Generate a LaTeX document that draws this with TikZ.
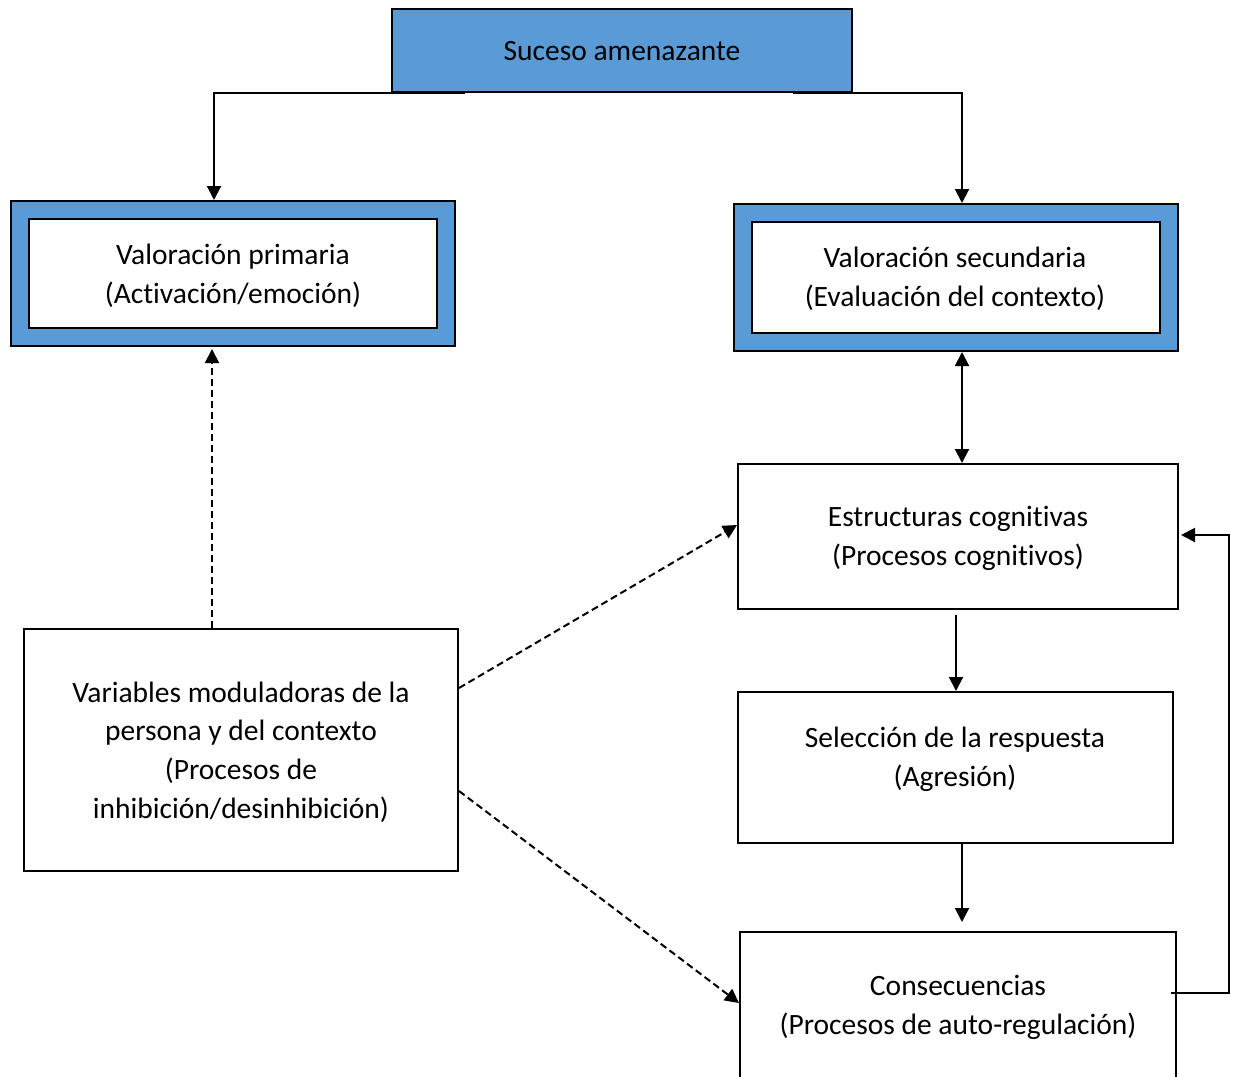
\documentclass[tikz,border=0pt]{standalone}
\usepackage{fontspec}
\setmainfont[Ligatures=NoCommon]{Carlito}
\usetikzlibrary{arrows.meta,calc}
\definecolor{wblue}{HTML}{5B9BD5}
\begin{document}
\begin{tikzpicture}[x=1pt,y=-1pt,
  every node/.style={font=\fontsize{29.5}{38.8}\selectfont},
  box/.style={draw=black, line width=2pt, inner sep=0pt, fill=white},
  bluebox/.style={box, fill=wblue},
  txt/.style={align=center, inner sep=0pt, text=black},
  arr/.style={line width=2pt, -{Triangle[length=14pt,width=14pt]}},
  darr/.style={line width=2pt, {Triangle[length=14pt,width=14pt]}-{Triangle[length=14pt,width=14pt]}},
  dasharr/.style={line width=2pt, dash pattern=on 7pt off 4pt, -{Triangle[length=14pt,width=14pt]}}]
\useasboundingbox (0,0) rectangle (1233,1076);
\clip (0,0) rectangle (1233,1076);
% boxes
\node[bluebox, minimum width=460pt, minimum height=83pt] (top) at (622,50.5) {};
\node[bluebox, minimum width=444pt, minimum height=145pt] (louter) at (233,273.5) {};
\node[box, minimum width=408pt, minimum height=109pt] (linner) at (233,273.5) {};
\node[bluebox, minimum width=444pt, minimum height=147pt] (router) at (956,277.5) {};
\node[box, minimum width=408pt, minimum height=111pt] (rinner) at (956,277.5) {};
\node[box, minimum width=440pt, minimum height=145pt] (estr) at (958,536.5) {};
\node[box, minimum width=435pt, minimum height=151pt] (sel) at (955.5,767.5) {};
\node[box, minimum width=436pt, minimum height=168pt] (cons) at (958,1016) {};
\node[box, minimum width=434pt, minimum height=242pt] (var) at (241,750) {};
% texts
\node[txt] (tsuc) at (622,51.5) {Suceso amenazante};
\node[txt] (tlp) at (233,276) {Valoración primaria\\(Activación/emoción)};
\node[txt] (trs) at (955,278.5) {Valoración secundaria\\(Evaluación del contexto)};
\node[txt] (test) at (958,538) {Estructuras cognitivas\\(Procesos cognitivos)};
\node[txt] (tsel) at (955,759) {Selección de la respuesta\\(Agresión)};
\node[txt] (tcons) at (958,1007.5) {Consecuencias\\(Procesos de auto-regulación)};
\node[txt] (tvar) at (241,752) {Variables moduladoras de la\\persona y del contexto\\(Procesos de\\inhibición/desinhibición)};
% connectors
\draw[arr] ($(top.south)+(-157,0)$) -| ($(louter.north)+(-19,0)$);
\draw[arr] ($(top.south)+(171,0)$) -| ($(router.north)+(6,0)$);
\draw[darr] ($(router.south)+(6,0)$) -- ($(estr.north)+(4,0)$);
\draw[arr] ($(estr.south)+(-2,5)$) -- ($(sel.north)+(0.5,0)$);
\draw[arr] ($(sel.south)+(6.5,0)$) -- ($(cons.north)+(4,-9)$);
\draw[arr] ($(cons.east)+(-6,-23)$) -- ++(58,0) |- ($(estr.east)+(2,-1.5)$);
\draw[dasharr] ($(var.north)+(-29,0)$) -- ($(louter.south)+(-21,2)$);
\draw[dasharr] ($(var.east)+(0,-62)$) -- ($(estr.west)+(0,-11.5)$);
\draw[dasharr] ($(var.east)+(0,41)$) -- ($(cons.west)+(0,-13)$);
\end{tikzpicture}
\end{document}
